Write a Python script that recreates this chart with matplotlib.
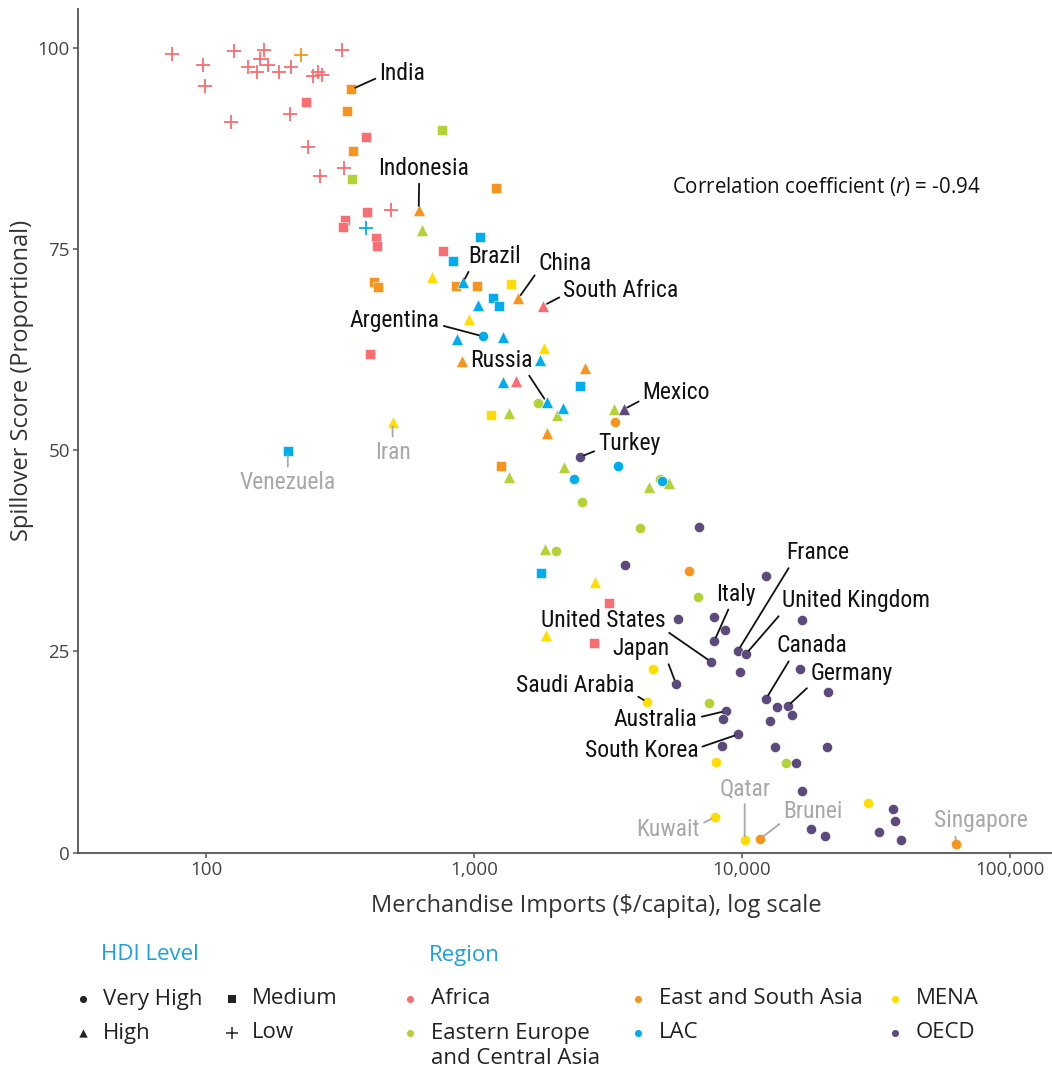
import matplotlib
matplotlib.use('agg')

import matplotlib.pyplot as plt
from matplotlib import font_manager
from matplotlib.ticker import FixedLocator, FuncFormatter, NullLocator

# ---- data ----
# hdi codes: VH very high, H high, M medium, L low
africa_x = [75, 127, 164, 97.5, 99, 143, 155, 159.5, 171, 188, 207, 251, 262, 271, 322, 206, 124, 240, 327, 266, 491,
            237, 396, 400, 331, 324, 432, 436, 768, 410, 3200, 2810,
            1814, 1435]
africa_y = [99.3, 99.7, 99.8, 97.9, 95.3, 97.7, 97.1, 98.7, 97.9, 97.1, 97.7, 96.6, 97.1, 96.7, 99.8, 91.9, 90.8, 87.7, 85.1, 84.1, 79.9,
            93.3, 89.0, 79.6, 78.7, 77.8, 76.4, 75.4, 74.8, 62.0, 31.0, 26.0,
            68.0, 58.6]
africa_hdi = ['L'] * 21 + ['M'] * 11 + ['H'] * 2

eeca_x = [762, 351, 641, 1354, 2046, 3338, 2167, 1347, 4509, 5340, 1841, 1733, 4943, 2529, 4152, 2018, 6870, 7551, 14560]
eeca_y = [89.8, 83.7, 77.4, 54.7, 54.4, 55.2, 47.9, 46.7, 45.5, 46.0, 37.7, 55.9, 46.5, 43.6, 40.4, 37.5, 31.8, 18.6, 11.1]
eeca_hdi = ['M'] * 2 + ['H'] * 9 + ['VH'] * 8

esa_x = [227, 349, 337, 355, 1211, 424, 440, 859, 1029, 1264, 622, 1463, 902, 2596, 1877, 3358, 6357, 11700, 63000]
esa_y = [99.2, 94.9, 92.2, 87.3, 82.7, 71.0, 70.3, 70.5, 70.5, 48.1, 79.9, 68.9, 61.1, 60.3, 52.2, 53.6, 35.0, 1.7, 1.06]
esa_hdi = ['L'] + ['M'] * 9 + ['H'] * 5 + ['VH'] * 4

lac_x = [394, 1055, 837, 1180, 1237, 2493, 1783, 202, 910, 1035, 862, 1283, 1763, 1283, 1867, 2148, 1078, 3446, 2361, 5028]
lac_y = [77.7, 76.6, 73.5, 69.0, 68.0, 58.0, 34.8, 49.9, 70.9, 68.1, 63.9, 64.1, 61.3, 58.5, 56.0, 55.3, 64.2, 48.1, 46.5, 46.2]
lac_hdi = ['L'] + ['M'] * 7 + ['H'] * 8 + ['VH'] * 4

mena_x = [1378, 1160, 697, 960, 1825, 497, 2836, 1856, 4667, 4433, 8020, 7930, 10235, 29440]
mena_y = [70.7, 54.4, 71.6, 66.3, 62.8, 53.5, 33.6, 27.0, 22.8, 18.7, 11.2, 4.4, 1.5, 6.2]
mena_hdi = ['M'] * 2 + ['H'] * 6 + ['VH'] * 6

oecd_x = [3619, 2493, 6928, 3650, 12250, 5768, 7839, 8643, 7881, 16700, 9666, 10350, 7680, 9856, 16460, 5670,
          20990, 12290, 13510, 14810, 15400, 8696, 8472, 12750, 9690, 8400, 13290, 20750, 15850, 16790,
          36700, 37330, 18140, 32360, 20460, 39180]
oecd_y = [55.1, 49.2, 40.5, 35.8, 34.4, 29.1, 29.3, 27.7, 26.3, 28.9, 25.1, 24.7, 23.7, 22.4, 22.8, 21.0,
          19.9, 19.1, 18.1, 18.2, 17.1, 17.6, 16.6, 16.4, 14.7, 13.3, 13.1, 13.1, 11.1, 7.6,
          5.4, 3.9, 2.9, 2.6, 2.1, 1.5]
oecd_hdi = ['H'] + ['VH'] * 35

region_names = ['Africa', 'Eastern Europe\nand Central Asia', 'East and South Asia', 'LAC', 'MENA', 'OECD']
region_colors = ['#F86E72', '#B3D235', '#F7941D', '#00AEEF', '#FFDD00', '#5C4A7D']
region_data = [(africa_x, africa_y, africa_hdi), (eeca_x, eeca_y, eeca_hdi), (esa_x, esa_y, esa_hdi),
               (lac_x, lac_y, lac_hdi), (mena_x, mena_y, mena_hdi), (oecd_x, oecd_y, oecd_hdi)]

hdi_levels = ['VH', 'H', 'M', 'L']
hdi_names = ['Very High', 'High', 'Medium', 'Low']

x_ticks = [100, 1000, 10000, 100000]
y_ticks = [0, 25, 50, 75, 100]

# labelled countries: name, region index, point index
labelled = [('India', 2, 1), ('Indonesia', 2, 10), ('Brazil', 3, 8), ('China', 2, 11),
            ('South Africa', 0, 32), ('Argentina', 3, 16), ('Russia', 3, 14), ('Mexico', 5, 0),
            ('Turkey', 5, 1), ('France', 5, 10), ('Italy', 5, 8), ('United Kingdom', 5, 11),
            ('United States', 5, 12), ('Japan', 5, 15), ('Canada', 5, 17), ('Germany', 5, 19),
            ('Saudi Arabia', 4, 9), ('Australia', 5, 21), ('South Korea', 5, 24)]
grey_labelled = [('Venezuela', 3, 7), ('Iran', 4, 5), ('Kuwait', 4, 11), ('Qatar', 4, 12),
                 ('Brunei', 2, 17), ('Singapore', 2, 18)]

# label placement: offset in pixels, ha, relpos of leader line on text box
label_pos = {
    'India': (28, 16, 'left', (0, 0.35)),
    'Indonesia': (5, 42, 'center', (0.45, 0)),
    'Brazil': (5, 26, 'left', (0.05, 0)),
    'China': (20, 35, 'left', (0, 0.2)),
    'South Africa': (20, 15, 'left', (0, 0.3)),
    'Argentina': (-43, 16, 'right', (1, 0.3)),
    'Russia': (-45, 42, 'center', (0.9, 0)),
    'Mexico': (19, 17, 'left', (0, 0.2)),
    'Turkey': (18, 13, 'left', (0, 0.25)),
    'France': (48, 98, 'left', (0.08, 0)),
    'Italy': (2, 47, 'left', (0.35, 0)),
    'United Kingdom': (36, 53, 'left', (0.0, 0)),
    'United States': (-46, 41, 'right', (1, 0.1)),
    'Japan': (-6, 35, 'right', (0.95, 0)),
    'Canada': (11, 53, 'left', (0.2, 0)),
    'Germany': (23, 33, 'left', (0, 0)),
    'Saudi Arabia': (-13, 17, 'right', (1, 0.1)),
    'Australia': (-28, -9, 'right', (1, 0.6)),
    'South Korea': (-40, -16, 'right', (1, 0.6)),
    'Venezuela': (0, -31, 'center', (0.5, 1)),
    'Iran': (0, -30, 'center', (0.5, 1)),
    'Kuwait': (-15, -12, 'right', (1, 0.7)),
    'Qatar': (0, 52, 'center', (0.5, 0)),
    'Brunei': (23, 27, 'left', (0, 0.1)),
    'Singapore': (25, 23, 'center', (0.22, 0)),
}

# ---- fonts ----
installed = {f.name for f in font_manager.fontManager.ttflist}
narrow = 'DejaVu Sans'
for cand in ['Liberation Sans Narrow', 'Roboto Condensed', 'Open Sans Condensed']:
    if cand in installed:
        narrow = cand
        break
base = 'Open Sans' if 'Open Sans' in installed else 'DejaVu Sans'
plt.rcParams['font.family'] = [base, 'DejaVu Sans']
plt.rcParams['mathtext.fontset'] = 'custom'
plt.rcParams['mathtext.rm'] = base
plt.rcParams['mathtext.it'] = base + ':italic'

markers = {'VH': 'o', 'H': '^', 'M': 's', 'L': '+'}
sizes = {'VH': 54, 'H': 74, 'M': 46, 'L': 95}

fig = plt.figure(figsize=(10.52, 10.72), dpi=100)
ax = fig.add_axes([78 / 1052, 1 - 852.5 / 1072, 1 - 78 / 1052, (852.5 - 9) / 1072])

for (xs, ys, hd), col in zip(region_data, region_colors):
    for lvl in hdi_levels:
        px = [x for x, h in zip(xs, hd) if h == lvl]
        py = [y for y, h in zip(ys, hd) if h == lvl]
        if not px:
            continue
        if lvl == 'L':
            ax.scatter(px, py, marker='+', s=sizes[lvl], c=col, linewidths=1.3, zorder=3)
        else:
            ax.scatter(px, py, marker=markers[lvl], s=sizes[lvl], c=col,
                       edgecolors='white', linewidths=0.4, zorder=3)

ax.set_xscale('log')
ax.set_xlim(33.3, 143500)
ax.set_ylim(0, 104.9)
ax.xaxis.set_major_locator(FixedLocator(x_ticks))
ax.xaxis.set_minor_locator(NullLocator())
ax.xaxis.set_major_formatter(FuncFormatter(lambda v, p: f'{v:,.0f}'))
ax.set_yticks(y_ticks)

for s in ['top', 'right']:
    ax.spines[s].set_visible(False)
for s in ['left', 'bottom']:
    ax.spines[s].set_color('#555555')
    ax.spines[s].set_linewidth(1.3)
ax.tick_params(axis='both', direction='out', length=3.8, width=1.1, color='#555555',
               labelsize=13.5, labelcolor='#444444', pad=2)

ax.set_xlabel('Merchandise Imports ($/capita), log scale', fontsize=17, color='#333333')
ax.set_ylabel('Spillover Score (Proportional)', fontsize=17, color='#333333')
ax.xaxis.set_label_coords(0.532, -0.0634)
ax.xaxis.label.set_va('center')
ax.yaxis.set_label_coords(-0.0575, 0.56)
ax.yaxis.label.set_va('center')

ax.text(0.6099, 0.789, 'Correlation coefficient ($\\mathit{r}$) = -0.94', transform=ax.transAxes,
        ha='left', va='center', fontsize=14.8, color='#111111')

for group, tcol, lcol in [(labelled, '#111111', '#111111'), (grey_labelled, '#A8A8A8', '#A8A8A8')]:
    for name, ri, pi in group:
        xs, ys, _ = region_data[ri]
        dx, dy, ha, rp = label_pos[name]
        ax.annotate(name, xy=(xs[pi], ys[pi]), xytext=(dx, dy), textcoords='offset pixels',
                    ha=ha, va='center', fontsize=17, family=[narrow, 'DejaVu Sans'],
                    fontstretch='condensed', color=tcol, zorder=5,
                    arrowprops=dict(arrowstyle='-', color=lcol, lw=1.3, shrinkA=1, shrinkB=3,
                                    relpos=rp))

# ---- legend (drawn on a pixel-space overlay) ----
lax = fig.add_axes([0, 0, 1, 1])
lax.set_xlim(0, 1052)
lax.set_ylim(1072, 0)
lax.axis('off')

lax.text(101, 955, 'HDI Level', color='#1BA1DC', fontsize=16, ha='left', va='center')
lax.text(429, 955, 'Region', color='#1BA1DC', fontsize=16, ha='left', va='center')

hdi_slots = [(83, 999), (83, 1033), (232, 999), (232, 1033)]
leg_sizes = {'VH': 26, 'H': 36, 'M': 26, 'L': 64}
for lvl, nm, (lx, ly) in zip(hdi_levels, hdi_names, hdi_slots):
    if lvl == 'L':
        lax.scatter([lx], [ly], marker='+', s=leg_sizes[lvl], c='#222222', linewidths=1.1)
    else:
        lax.scatter([lx], [ly], marker=markers[lvl], s=leg_sizes[lvl], c='#222222', linewidths=0)
    lax.text(lx + 20, ly, nm, fontsize=16, color='#222222', ha='left', va='center')

reg_slots = [(410, 999), (410, 1033), (638, 999), (638, 1033), (895, 999), (895, 1033)]
for nm, col, (lx, ly) in zip(region_names, region_colors, reg_slots):
    lax.scatter([lx], [ly], marker='o', s=26, c=col, linewidths=0)
    for i, line in enumerate(nm.split('\n')):
        lax.text(lx + 21, ly + 26 * i, line, fontsize=16, color='#222222', ha='left', va='center')

fig.savefig('out.png', dpi=100)
